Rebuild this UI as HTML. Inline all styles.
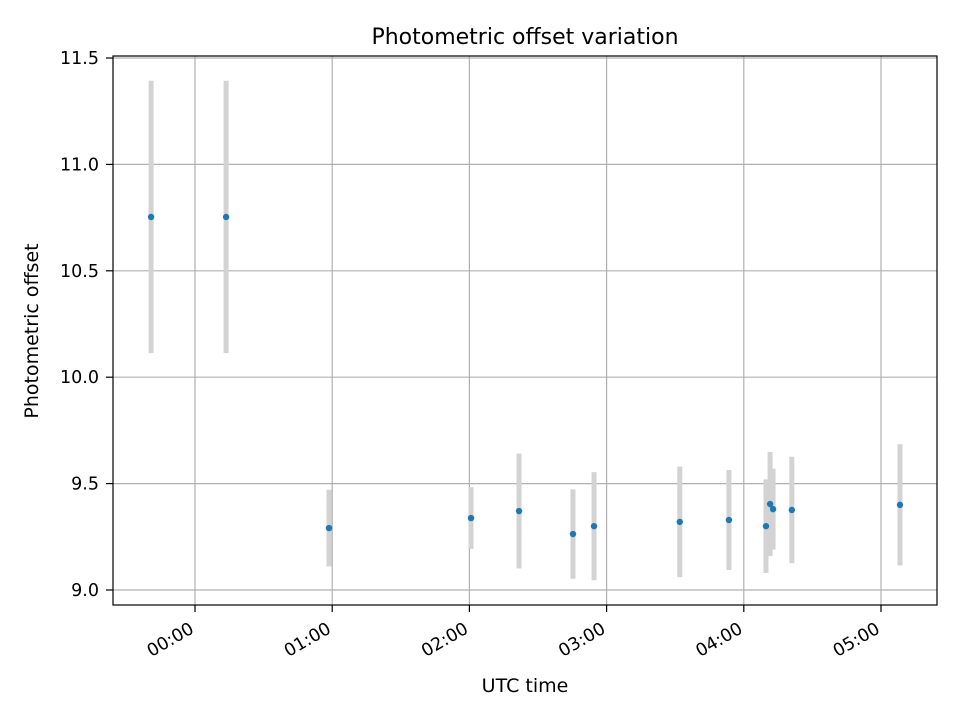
<!DOCTYPE html>
<html><head><meta charset="utf-8"><style>
body{margin:0;background:#fff;}
svg{display:block;font-family:"DejaVu Sans","Liberation Sans",sans-serif;}
</style></head><body>
<svg id="chart" width="960" height="720">
<rect x="0" y="0" width="960" height="720" fill="#fff"/>
<g id="grid"></g><g id="bars"></g><g id="pts"></g><g id="axes"></g>
<text x="525" y="44" text-anchor="middle" font-size="22">Photometric offset variation</text>
<text x="525" y="692" text-anchor="middle" font-size="19">UTC time</text>
<text transform="translate(38,331) rotate(-90)" text-anchor="middle" font-size="19">Photometric offset</text>
</svg>
<script>
// minutes from 00:00 UTC
const times = [-19.2, 13.6, 58.6, 120.7, 141.7, 165.3, 174.5, 212, 233.5, 249.7, 251.5, 252.8, 261, 308.3];
const offsets = [10.753, 10.753, 9.291, 9.338, 9.371, 9.263, 9.30, 9.32, 9.329, 9.30, 9.404, 9.38, 9.376, 9.40];
const errors = [0.64, 0.64, 0.18, 0.145, 0.27, 0.21, 0.254, 0.26, 0.235, 0.22, 0.245, 0.19, 0.25, 0.285];
const yTicks = [9.0, 9.5, 10.0, 10.5, 11.0, 11.5];
const xTicks = [0, 60, 120, 180, 240, 300];
const xTickLabels = ["00:00", "01:00", "02:00", "03:00", "04:00", "05:00"];

const L=113,R=937,T=56,B=605;
const xs = m => 195 + (m/60)*137.2;
const ys = v => 590 - (v-9.0)*212.8;
const NS="http://www.w3.org/2000/svg";
function mk(tag, attrs, parent){const e=document.createElementNS(NS,tag);for(const k in attrs)e.setAttribute(k,attrs[k]);parent.appendChild(e);return e;}
const grid=document.getElementById('grid'),bars=document.getElementById('bars'),pts=document.getElementById('pts'),axes=document.getElementById('axes');

yTicks.forEach(v=>{
  const y=ys(v);
  const g=mk('line',{x1:L,x2:R,y1:y,y2:y,stroke:'#b0b0b0','stroke-width':1.2},grid);
  
  
  mk('line',{x1:L-7,x2:L,y1:y,y2:y,stroke:'#000','stroke-width':1.2},axes);
  const t=mk('text',{x:L-14,y:y+6,'text-anchor':'end','font-size':17.5},axes);
  t.textContent=v.toFixed(1);
  
  
});
xTicks.forEach((m,i)=>{
  const x=xs(m);
  const g=mk('line',{x1:x,x2:x,y1:T,y2:B,stroke:'#b0b0b0','stroke-width':1.2},grid);
  
  
  mk('line',{x1:x,x2:x,y1:B,y2:B+7,stroke:'#000','stroke-width':1.2},axes);
  const t=mk('text',{transform:`translate(${x},${B+27}) rotate(-30)`,'text-anchor':'end','font-size':17.5},axes);
  t.textContent=xTickLabels[i];
  
  
});
times.forEach((m,i)=>{
  const x=xs(m);
  const b=mk('line',{x1:x,x2:x,y1:ys(offsets[i]+errors[i]),y2:ys(offsets[i]-errors[i]),stroke:'#d3d3d3','stroke-width':5},bars);
  
  
  const c=mk('circle',{cx:x,cy:ys(offsets[i]),r:3.2,fill:'#1f77b4'},pts);
  
  
});
const f=mk('rect',{x:L,y:T,width:R-L,height:B-T,fill:'none',stroke:'#000','stroke-width':1.2},axes);


</script>
</body></html>
